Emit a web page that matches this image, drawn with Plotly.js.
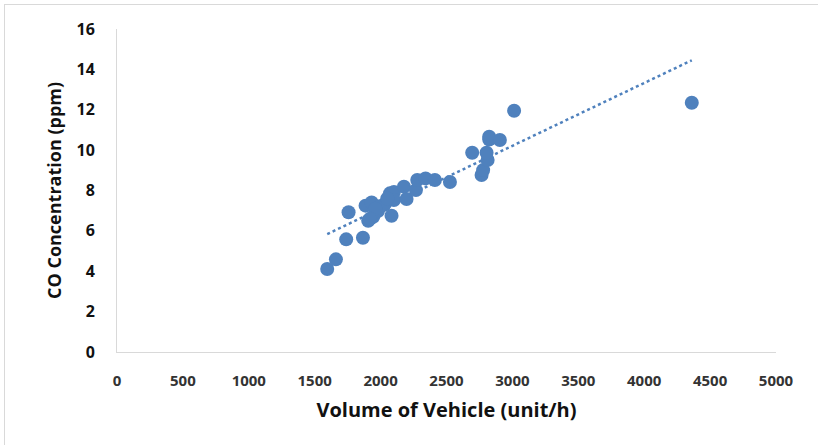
<!DOCTYPE html>
<html>
<head>
<meta charset="utf-8">
<script src="https://cdn.plot.ly/plotly-3.0.1.min.js"></script>
<style>
html,body{margin:0;padding:0;background:#fff;}
#chart{width:818px;height:445px;}
#frame{position:absolute;left:4px;top:4px;width:830px;height:460px;border:1px solid #d9d9d9;pointer-events:none;}
</style>
</head>
<body>
<div id="frame"></div>
<div id="chart"></div>
<script>
// Vehicle volume (unit/h)
const volume = [1595,1661,1739,1757,1866,1886,1932,1906,1944,1980,2002,2083,2071,2101,2101,2177,2197,2268,2278,2341,2412,2526,2695,2766,2778,2812,2804,2824,2824,2905,3013,4361,2030,1960,2050,1920];
// CO concentration (ppm)
const coConc = [4.11,4.59,5.58,6.92,5.66,7.25,7.41,6.50,6.70,6.98,7.23,6.75,7.86,7.92,7.53,8.19,7.58,8.02,8.52,8.60,8.52,8.42,9.87,8.77,9.01,9.51,9.87,10.66,10.53,10.50,11.95,12.35,7.30,7.10,7.60,6.60];
// Linear trendline endpoints
const trendX = [1595, 4361];
const trendY = [5.84, 14.45];
const xTicks = [0,500,1000,1500,2000,2500,3000,3500,4000,4500,5000];
const yTicks = [0,2,4,6,8,10,12,14,16];

const blue = 'rgb(79,129,189)';
const font = 'Open Sans, Liberation Sans, sans-serif';

const data = [
  {x: trendX, y: trendY, type: 'scatter', mode: 'lines',
   line: {color: blue, width: 2.5, dash: 'dot'}, hoverinfo: 'skip'},
  {x: volume, y: coConc, type: 'scatter', mode: 'markers',
   marker: {color: blue, size: 14}}
];

const layout = {
  width: 818, height: 445,
  margin: {l: 117, r: 42, t: 29, b: 93},
  paper_bgcolor: 'rgba(0,0,0,0)', plot_bgcolor: '#fff',
  showlegend: false,
  font: {family: font, color: '#262626'},
  xaxis: {
    range: [0, 5000], tickvals: xTicks, ticktext: xTicks.map(String),
    showgrid: false, zeroline: false, showline: true, linecolor: '#d9d9d9', linewidth: 1,
    ticks: 'outside', ticklen: 15, tickcolor: 'rgba(0,0,0,0)',
    tickfont: {size: 15, family: font, weight: 'bold', color: '#333333'},
    title: {text: 'Volume of Vehicle (unit/h)', standoff: 13,
            font: {size: 20, family: font, weight: 'bold', color: '#111111'}}
  },
  yaxis: {
    range: [0, 16], tickvals: yTicks, ticktext: yTicks.map(String),
    showgrid: false, zeroline: false, showline: true, linecolor: '#d9d9d9', linewidth: 1,
    ticks: 'outside', ticklen: 18, tickcolor: 'rgba(0,0,0,0)',
    tickfont: {size: 16, family: font, weight: 'bold', color: '#111111'},
    title: {text: 'CO Concentration (ppm)', standoff: 10,
            font: {size: 18, family: font, weight: 'bold', color: '#111111'}}
  }
};

Plotly.newPlot('chart', data, layout, {displayModeBar: false, staticPlot: true});
</script>
</body>
</html>
